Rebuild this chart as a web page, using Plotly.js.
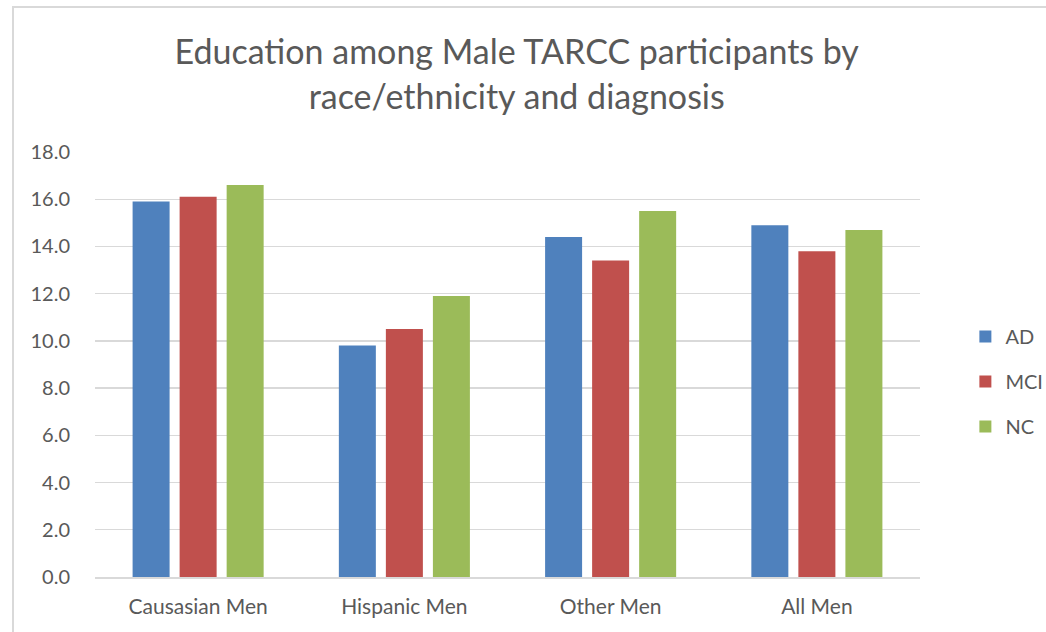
<!DOCTYPE html>
<html>
<head>
<meta charset="utf-8">
<script src="https://cdn.plot.ly/plotly-3.0.1.min.js"></script>
<style>
  html, body { margin: 0; padding: 0; background: #fff; }
  #wrap { position: relative; width: 1046px; height: 632px; overflow: hidden; }
  #chart { position: absolute; left: 0; top: 0; width: 1046px; height: 632px; }
  #frame { position: absolute; left: 12px; top: 6px; width: 1100px; height: 700px;
           border: 2px solid #d9d9d9; pointer-events: none; }
</style>
</head>
<body>
<div id="wrap">
  <div id="chart"></div>
  <div id="frame"></div>
</div>
<script>
const categories = ["Causasian Men", "Hispanic Men", "Other Men", "All Men"];
const seriesNames = ["AD", "MCI", "NC"];
const adValues  = [15.9, 9.8, 14.4, 14.9];
const mciValues = [16.1, 10.5, 13.4, 13.8];
const ncValues  = [16.6, 11.9, 15.5, 14.7];
const yTickValues = [0, 2, 4, 6, 8, 10, 12, 14, 16, 18];
const yTickLabels = ["0.0", "2.0", "4.0", "6.0", "8.0", "10.0", "12.0", "14.0", "16.0", "18.0"];
const colors = ["#4f81bd", "#c0504d", "#9bbb59"];

const FONT = "Lato, 'Open Sans', sans-serif";
const values = [adValues, mciValues, ncValues];

const traces = seriesNames.map((name, i) => ({
  type: "bar",
  name: name,
  x: categories,
  y: values[i],
  legendgroup: name,
  marker: { color: colors[i], line: { width: 0 } },
  hoverinfo: "x+y+name"
}));

const layout = {
  width: 1046,
  height: 632,
  paper_bgcolor: "#ffffff",
  plot_bgcolor: "#ffffff",
  margin: { l: 95, r: 126, t: 152, b: 55, autoexpand: false },
  font: { family: FONT, color: "#595959", size: 20 },
  title: {
    text: "Education among Male TARCC participants by<br>race/ethnicity and diagnosis",
    font: { family: FONT, size: 34, color: "#595959" },
    xref: "container", yref: "container",
    x: 0.494, xanchor: "center",
    y: 0.898, yanchor: "middle"
  },
  barmode: "group",
  bargap: 0.316,
  bargroupgap: 0.213,
  xaxis: {
    type: "category",
    showgrid: false,
    showline: true,
    linecolor: "#d9d9d9",
    linewidth: 2,
    ticks: "outside",
    ticklen: 10,
    tickcolor: "rgba(0,0,0,0)",
    tickfont: { family: FONT, size: 21, color: "#595959" },
    automargin: false,
    fixedrange: true
  },
  yaxis: {
    range: [0, 18],
    tickvals: yTickValues,
    ticktext: yTickLabels,
    showgrid: true,
    gridcolor: "#d9d9d9",
    gridwidth: 1.3,
    zeroline: false,
    showline: false,
    ticks: "outside",
    ticklen: 20,
    tickcolor: "rgba(0,0,0,0)",
    tickfont: { family: FONT, size: 20, color: "#595959" },
    automargin: false,
    fixedrange: true
  },
  showlegend: true,
  legend: {
    x: 1.055, xanchor: "left",
    y: 0.46, yanchor: "middle",
    traceorder: "grouped",
    tracegroupgap: 16,
    font: { family: FONT, size: 20, color: "#595959" },
    itemwidth: 30,
    bgcolor: "rgba(0,0,0,0)"
  }
};

Plotly.newPlot("chart", traces, layout, { displayModeBar: false, staticPlot: true });
</script>
</body>
</html>
